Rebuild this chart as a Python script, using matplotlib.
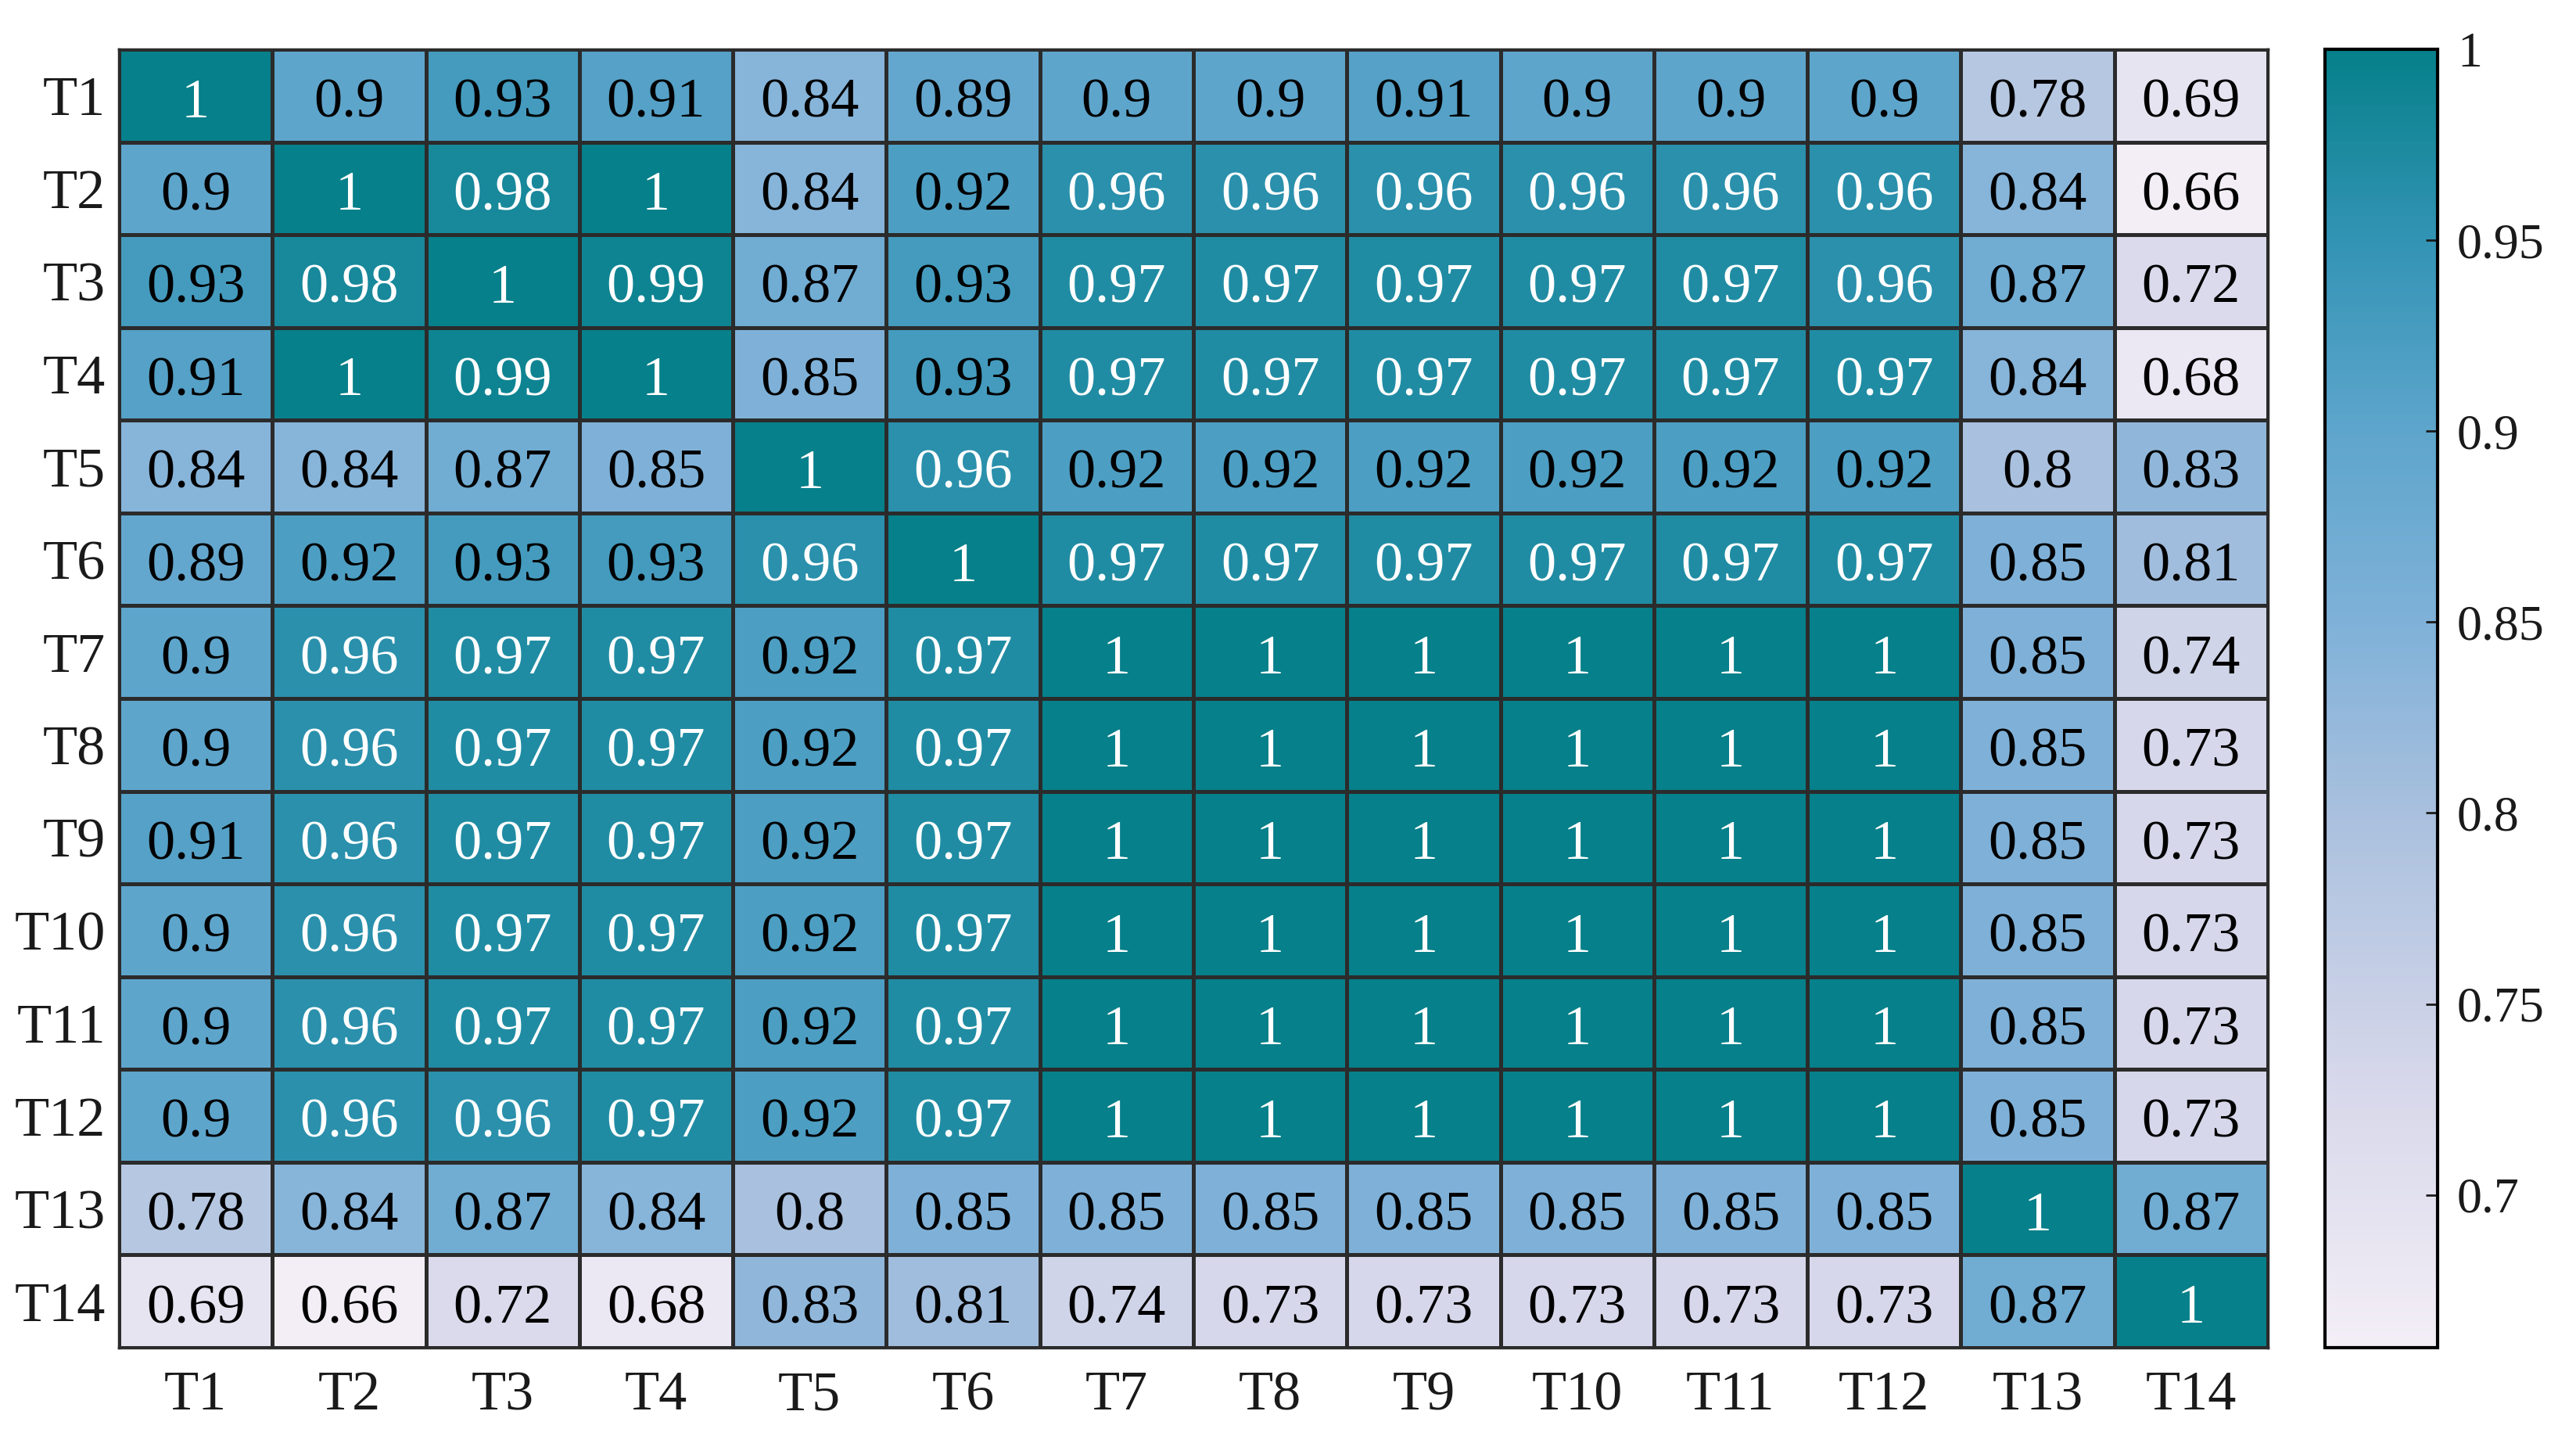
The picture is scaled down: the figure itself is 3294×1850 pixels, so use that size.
import matplotlib
matplotlib.use("Agg")
import matplotlib.pyplot as plt
import numpy as np
from matplotlib.colors import LinearSegmentedColormap, Normalize

plt.rcParams["font.family"] = ["Liberation Serif", "DejaVu Serif"]

labels = [f"T{i}" for i in range(1, 15)]
corr = [
    [1, 0.9, 0.93, 0.91, 0.84, 0.89, 0.9, 0.9, 0.91, 0.9, 0.9, 0.9, 0.78, 0.69],
    [0.9, 1, 0.98, 1, 0.84, 0.92, 0.96, 0.96, 0.96, 0.96, 0.96, 0.96, 0.84, 0.66],
    [0.93, 0.98, 1, 0.99, 0.87, 0.93, 0.97, 0.97, 0.97, 0.97, 0.97, 0.96, 0.87, 0.72],
    [0.91, 1, 0.99, 1, 0.85, 0.93, 0.97, 0.97, 0.97, 0.97, 0.97, 0.97, 0.84, 0.68],
    [0.84, 0.84, 0.87, 0.85, 1, 0.96, 0.92, 0.92, 0.92, 0.92, 0.92, 0.92, 0.8, 0.83],
    [0.89, 0.92, 0.93, 0.93, 0.96, 1, 0.97, 0.97, 0.97, 0.97, 0.97, 0.97, 0.85, 0.81],
    [0.9, 0.96, 0.97, 0.97, 0.92, 0.97, 1, 1, 1, 1, 1, 1, 0.85, 0.74],
    [0.9, 0.96, 0.97, 0.97, 0.92, 0.97, 1, 1, 1, 1, 1, 1, 0.85, 0.73],
    [0.91, 0.96, 0.97, 0.97, 0.92, 0.97, 1, 1, 1, 1, 1, 1, 0.85, 0.73],
    [0.9, 0.96, 0.97, 0.97, 0.92, 0.97, 1, 1, 1, 1, 1, 1, 0.85, 0.73],
    [0.9, 0.96, 0.97, 0.97, 0.92, 0.97, 1, 1, 1, 1, 1, 1, 0.85, 0.73],
    [0.9, 0.96, 0.96, 0.97, 0.92, 0.97, 1, 1, 1, 1, 1, 1, 0.85, 0.73],
    [0.78, 0.84, 0.87, 0.84, 0.8, 0.85, 0.85, 0.85, 0.85, 0.85, 0.85, 0.85, 1, 0.87],
    [0.69, 0.66, 0.72, 0.68, 0.83, 0.81, 0.74, 0.73, 0.73, 0.73, 0.73, 0.73, 0.87, 1],
]
cbar_ticks = [0.7, 0.75, 0.8, 0.85, 0.9, 0.95, 1.0]

vmin, vmax = 0.66, 1.0
# colour stops picked off the reference colourbar
stops = [0.66, 0.73, 0.80, 0.85, 0.90, 0.95, 1.0]
stop_colors = ["#f3eef6", "#d6d7ea", "#a9c0de", "#7fb1d8", "#5ea5cc", "#3394b5", "#06808a"]
cmap = LinearSegmentedColormap.from_list(
    "tealpurple", [((s - vmin) / (vmax - vmin), c) for s, c in zip(stops, stop_colors)])

data = np.array(corr)
n = len(labels)

fig = plt.figure(figsize=(32.94, 18.5), dpi=100)
ax = fig.add_axes([0.04614, 0.06865, 0.83424, 0.89730])
cax = fig.add_axes([0.90255, 0.06865, 0.04372, 0.89730])

mesh = ax.pcolormesh(data, cmap=cmap, norm=Normalize(vmin, vmax),
                     edgecolors="#2b2b2b", linewidth=2.2)
ax.set_xlim(0, n)
ax.set_ylim(n, 0)
for i in range(n):
    for j in range(n):
        v = data[i, j]
        ax.text(j + 0.5, i + 0.52, f"{v:g}", ha="center", va="center_baseline",
                fontsize=52, color="white" if v > 0.95 else "black")

ax.set_xticks(np.arange(n) + 0.5)
ax.set_yticks(np.arange(n) + 0.5)
ax.set_xticklabels(labels)
ax.set_yticklabels(labels)
ax.tick_params(length=0, labelsize=52, colors="#1a1a1a")
ax.tick_params(axis="x", pad=21)
ax.tick_params(axis="y", pad=12)
for s in ax.spines.values():
    s.set_linewidth(2.5)
    s.set_color("#2b2b2b")

cb = fig.colorbar(mesh, cax=cax)
cb.set_ticks(cbar_ticks)
cb.set_ticklabels([f"{t:g}" for t in cbar_ticks])
cb.ax.tick_params(direction="in", length=11, width=2, labelsize=46, pad=18, colors="#1a1a1a")
cb.outline.set_linewidth(3)
cb.outline.set_edgecolor("black")

fig.savefig("out.png", dpi=100)
print("wrote out.png")
